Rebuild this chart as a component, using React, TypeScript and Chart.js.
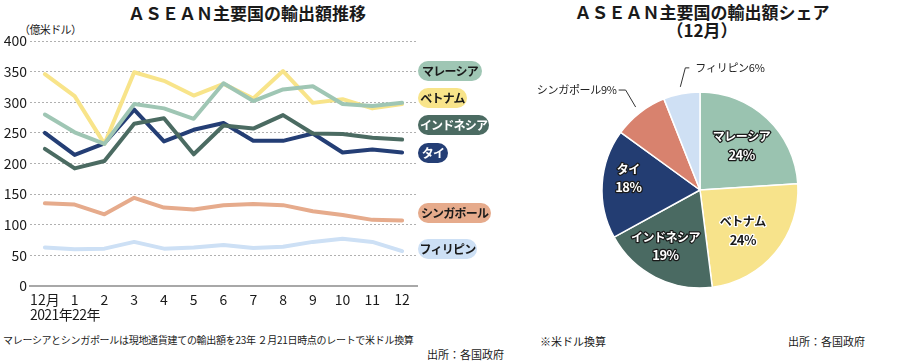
import React, { useEffect, useRef } from "react";
import { Chart, registerables } from "chart.js";
Chart.register(...registerables);

const months = ["12月", "1", "2", "3", "4", "5", "6", "7", "8", "9", "10", "11", "12"];
const yearNote = "2021年22年";
const malaysia = [280, 251, 232, 297, 290, 273, 331, 302, 321, 326, 297, 294, 299];
const vietnam = [346, 310, 232, 349, 335, 311, 330, 306, 351, 299, 305, 290, 297];
const indonesia = [224, 192, 204, 265, 274, 215, 262, 257, 279, 249, 248, 242, 239];
const thai = [250, 214, 233, 288, 236, 255, 266, 237, 237, 249, 218, 223, 218];
const singapore = [135, 133, 117, 144, 128, 125, 132, 134, 132, 122, 116, 108, 107];
const philippines = [63, 60, 61, 72, 61, 63, 67, 62, 64, 72, 77, 72, 57];
const yMin = 0;
const yMax = 400;
const yStep = 50;

const countries = ["マレーシア", "ベトナム", "インドネシア", "タイ", "シンガポール", "フィリピン"];
const shares = [24, 24, 19, 18, 9, 6];

const lineColors = ["#9fc6b4", "#f8e48a", "#4b6b62", "#243e75", "#e6ab8c", "#cde0f5"];
const pieColors = ["#9ac3b0", "#f7e38b", "#4a6a62", "#233d72", "#d8826e", "#cfe0f4"];

const JP = "'Noto Sans CJK JP', sans-serif";
const NARROW = "'Liberation Sans Narrow', 'Noto Sans CJK JP', sans-serif";

const pieLabelPlugin = {
  id: "pieLabels",
  afterDatasetsDraw(chart: any) {
    const ctx = chart.ctx as CanvasRenderingContext2D;
    const meta = chart.getDatasetMeta(0);
    const nudges = [[0, 0], [-4, 2], [-7, 2], [-11, -8]];
    meta.data.forEach((arc: any, i: number) => {
      const p = arc.getProps(["x", "y", "startAngle", "endAngle", "outerRadius"], true);
      const mid = (p.startAngle + p.endAngle) / 2;
      const name = countries[i];
      const pct = shares[i] + "%";
      ctx.save();
      if (i < 4) {
        const r = p.outerRadius * 0.62;
        const cx = p.x + Math.cos(mid) * r + nudges[i][0];
        const cy = p.y + Math.sin(mid) * r + nudges[i][1];
        ctx.textAlign = "center";
        ctx.textBaseline = "middle";
        ctx.lineJoin = "round";
        ctx.lineWidth = 2.5;
        const dark = i === 1;
        ctx.strokeStyle = dark ? "#ffffff" : "#1a1a1a";
        ctx.fillStyle = dark ? "#1a1a1a" : "#ffffff";
        ctx.font = `bold 12px ${JP}`;
        (ctx as any).letterSpacing = "-0.5px";
        ctx.strokeText(name, cx, cy - 9);
        ctx.fillText(name, cx, cy - 9);
        ctx.font = `bold 13px ${NARROW}`;
        ctx.strokeText(pct, cx, cy + 9);
        ctx.fillText(pct, cx, cy + 9);
      } else {
        const r = p.outerRadius + 7;
        const sx = p.x + Math.cos(mid) * r;
        const sy = p.y + Math.sin(mid) * r;
        ctx.strokeStyle = "#333";
        ctx.lineWidth = 1;
        ctx.fillStyle = "#222";
        ctx.font = `11px ${JP}`;
        (ctx as any).letterSpacing = "-0.3px";
        ctx.textBaseline = "middle";
        ctx.beginPath();
        if (i === 4) {
          const ex = sx - 10, ey = sy - 17;
          ctx.moveTo(sx, sy);
          ctx.lineTo(ex, ey);
          ctx.lineTo(ex - 7, ey);
          ctx.stroke();
          ctx.textAlign = "right";
          ctx.fillText(name + pct, ex - 9, ey);
        } else {
          const ex = sx + 5, ey = sy - 19;
          ctx.moveTo(sx, sy);
          ctx.lineTo(ex, ey);
          ctx.lineTo(ex + 4, ey);
          ctx.stroke();
          ctx.textAlign = "left";
          ctx.fillText(name + pct, ex + 10, ey);
        }
      }
      ctx.restore();
    });
  },
};

function LineChart() {
  const ref = useRef<HTMLCanvasElement>(null);
  useEffect(() => {
    const series = [malaysia, vietnam, indonesia, thai, singapore, philippines];
    const chart = new Chart(ref.current!, {
      type: "line",
      data: {
        labels: months,
        datasets: series.map((d, i) => ({
          label: countries[i],
          data: d,
          borderColor: lineColors[i],
          backgroundColor: lineColors[i],
          borderWidth: 4,
          pointRadius: 0,
          tension: 0,
          borderJoinStyle: "round" as const,
          borderCapStyle: "round" as const,
          fill: false,
        })),
      },
      options: {
        animation: false,
        responsive: false,
        maintainAspectRatio: false,
        layout: { padding: { top: 41, right: 3, left: 0, bottom: 0 } },
        plugins: { legend: { display: false }, tooltip: { enabled: false } },
        scales: {
          x: {
            offset: true,
            grid: { display: false, drawTicks: false },
            border: { display: true, color: "#a8a8a8", width: 2 },
            ticks: {
              padding: 5,
              color: "#1a1a1a",
              autoSkip: false,
              maxRotation: 0,
              font: { family: NARROW, size: 14 },
            },
            afterFit(s: any) { s.height = 44; },
          },
          y: {
            min: yMin,
            max: yMax,
            ticks: {
              stepSize: yStep,
              padding: 3,
              color: "#1a1a1a",
              font: { family: NARROW, size: 14 },
            },
            grid: {
              drawTicks: false,
              lineWidth: 1,
              color: (c: any) => (c.tick && c.tick.value === 0 ? "rgba(0,0,0,0)" : "#b0b0b0"),
            },
            border: { display: false, dash: [2, 2] },
            afterFit(s: any) { s.width = 30; },
          },
        },
      },
    });
    return () => chart.destroy();
  }, []);
  return <canvas ref={ref} width={420} height={330} style={{ position: "absolute", left: 0, top: 0, width: 420, height: 330 }} />;
}

function PieChart() {
  const ref = useRef<HTMLCanvasElement>(null);
  useEffect(() => {
    const chart = new Chart(ref.current!, {
      type: "pie",
      data: {
        labels: countries,
        datasets: [{ data: shares, backgroundColor: pieColors, borderColor: "#ffffff", borderWidth: 1.5, radius: 98 } as any],
      },
      options: {
        animation: false,
        responsive: false,
        maintainAspectRatio: false,
        plugins: { legend: { display: false }, tooltip: { enabled: false } },
      },
      plugins: [pieLabelPlugin],
    });
    return () => chart.destroy();
  }, []);
  return <canvas ref={ref} width={360} height={260} style={{ position: "absolute", left: 520, top: 60, width: 360, height: 260 }} />;
}

const pills = [
  { text: "マレーシア", top: 61, bg: "#9fc6b4", fg: "#1a1a1a", w: 64 },
  { text: "ベトナム", top: 88, bg: "#f8e48a", fg: "#1a1a1a", w: 49 },
  { text: "インドネシア", top: 115, bg: "#4b6b62", fg: "#ffffff", w: 71 },
  { text: "タイ", top: 143, bg: "#243e75", fg: "#ffffff", w: 30 },
  { text: "シンガポール", top: 203, bg: "#e6ab8c", fg: "#1a1a1a", w: 73 },
  { text: "フィリピン", top: 239, bg: "#cde0f5", fg: "#1a1a1a", w: 59 },
];

export default function App() {
  const abs = (l: number, t: number, extra: any = {}) => ({ position: "absolute" as const, left: l, top: t, whiteSpace: "nowrap" as const, ...extra });
  return (
    <div style={{ position: "fixed", left: 0, top: 0, width: 900, height: 361, background: "#fff", fontFamily: JP, color: "#1a1a1a", overflow: "hidden" }}>
      <div style={abs(0, 3, { width: 494, textAlign: "center", fontSize: 17, fontWeight: 700, lineHeight: "20px" })}>ＡＳＥＡＮ主要国の輸出額推移</div>
      <div style={abs(19, 21, { fontSize: 11, lineHeight: "16px", letterSpacing: -0.6 })}>（億米ドル）</div>
      <LineChart />
      <div style={abs(30, 305, { fontSize: 14, lineHeight: "18px", fontFamily: NARROW, letterSpacing: -0.6 })}>{yearNote}</div>
      {pills.map((p) => (
        <div key={p.text} style={abs(418, p.top, { width: p.w, height: 20, lineHeight: "20px", borderRadius: 10, background: p.bg, color: p.fg, fontSize: 12, fontWeight: 700, textAlign: "center", letterSpacing: -0.8 })}>{p.text}</div>
      ))}
      <div style={abs(3, 332, { fontSize: 10, lineHeight: "16px", letterSpacing: -0.3 })}>マレーシアとシンガポールは現地通貨建ての輸出額を23年 ２月21日時点のレートで米ドル換算</div>
      <div style={abs(427, 346, { fontSize: 11, lineHeight: "16px" })}>出所：各国政府</div>

      <div style={abs(520, 3, { width: 364, textAlign: "center", fontSize: 17, fontWeight: 700, lineHeight: "18px" })}>ＡＳＥＡＮ主要国の輸出額シェア<br />（12月）</div>
      <PieChart />
      <div style={abs(540, 333, { fontSize: 11, lineHeight: "16px" })}>※米ドル換算</div>
      <div style={abs(788, 333, { fontSize: 11, lineHeight: "16px" })}>出所：各国政府</div>
    </div>
  );
}
